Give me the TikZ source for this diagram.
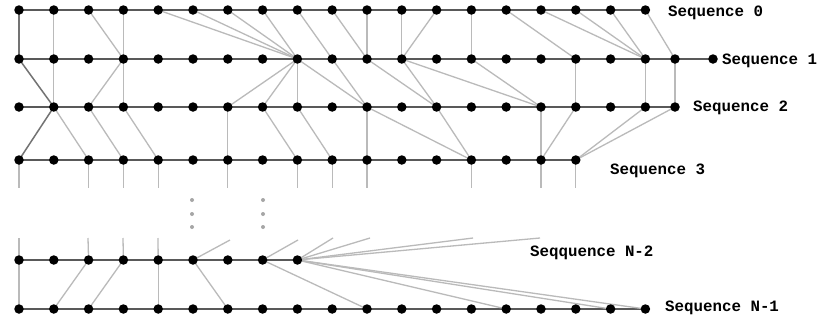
\documentclass[tikz,border=0pt]{standalone}
\usepackage{fontspec}
\setmonofont{Liberation Mono}
\usetikzlibrary{calc}
\pgfdeclarelayer{bg}
\pgfsetlayers{bg,main}
\begin{document}
\begin{tikzpicture}[x=1pt,y=-1pt,
  seqline/.style={draw=black!65, line width=2.2pt},
  link/.style={draw=black!27, line width=1.3pt},
  strong/.style={draw=black!55, line width=1.5pt},
  seqdot/.style={circle, fill=black, inner sep=0pt, minimum size=9.5pt},
  vdot/.style={circle, fill=black!35, inner sep=0pt, minimum size=4pt},
  seqlabel/.style={font=\ttfamily\bfseries\fontsize{15.8}{15.8}\selectfont, anchor=west, inner sep=0pt}]
\useasboundingbox (0,0) rectangle (820,327);

% ---- sequence nodes ----
\foreach \i in {0,...,18} \node[seqdot] (a\i) at ({19+34.8*\i},10) {};
\foreach \i in {0,...,18} \node[seqdot] (b\i) at ({19+34.8*\i},59) {};
\node[seqdot] (b19) at (675,59) {};
\node[seqdot] (b20) at (713,59) {};
\foreach \i in {0,...,18} \node[seqdot] (c\i) at ({19+34.8*\i},107) {};
\node[seqdot] (c19) at (675,107) {};
\foreach \i in {0,...,16} \node[seqdot] (d\i) at ({19+34.8*\i},160) {};
\foreach \i in {0,...,8} \node[seqdot] (m\i) at ({19+34.8*\i},260) {};
\foreach \i in {0,...,18} \node[seqdot] (n\i) at ({19+34.8*\i},309) {};

% ---- labels ----
\node[seqlabel] (l0) at (668,13) {Sequence 0};
\node[seqlabel] (l1) at (722,61) {Sequence 1};
\node[seqlabel] (l2) at (693,108) {Sequence 2};
\node[seqlabel] (l3) at (610,171) {Sequence 3};
\node[seqlabel] (l4) at (530,253) {Seqquence N-2};
\node[seqlabel] (l5) at (665,308) {Sequence N-1};

% ---- vertical ellipses ----
\foreach \y in {200,214,227} {
  \node[vdot] at (192,\y) {};
  \node[vdot] at (263,\y) {};
}

% ---- loose ends through the gap ----
\foreach \i in {0,2,3,4,6,8,9,10,13,15,16}
  \coordinate (e\i) at ($(d\i)+(0,28)$);
\coordinate (u0) at (19,238);
\coordinate (u2) at (88,238);
\coordinate (u3) at (123,238);
\coordinate (u4) at (158,238);
\coordinate (u5) at (230,240);
\coordinate (u7) at (298,240);
\coordinate (u8a) at (333,238);
\coordinate (u8b) at (370,238);
\coordinate (u8c) at (473,238);
\coordinate (u8d) at (540,238);

\begin{pgfonlayer}{bg}
  \fill[white] (0,0) rectangle (820,327);
  % sequence lines
  \draw[seqline] (a0.center) -- (a18.center);
  \draw[seqline] (b0.center) -- (b20.center);
  \draw[seqline] (c0.center) -- (c19.center);
  \draw[seqline] (d0.center) -- (d16.center);
  \draw[seqline] (m0.center) -- (m8.center);
  \draw[seqline] (n0.center) -- (n18.center);

  % Sequence 0 -> Sequence 1
  \draw[strong] (a0.center) -- (b0.center);
  \foreach \s/\t in {1/1,2/3,3/3,4/8,5/8,6/8,7/8,8/9,9/10,10/10,11/11,12/11,13/13,14/16,15/18,16/18,17/18,18/19}
    \draw[link] (a\s.center) -- (b\t.center);

  % Sequence 1 -> Sequence 2
  \draw[strong] (b0.center) -- (c1.center);
  \foreach \s/\t in {1/1,3/2,3/3,8/6,8/7,8/8,8/10,9/10,10/12,11/12,11/15,13/15,16/16,18/18,19/19}
    \draw[link] (b\s.center) -- (c\t.center);

  % Sequence 2 -> Sequence 3
  \draw[strong] (c1.center) -- (d0.center);
  \foreach \s/\t in {1/2,2/3,3/4,6/6,7/8,8/9,10/10,10/13,12/13,15/15,16/15,18/16,19/16}
    \draw[link] (c\s.center) -- (d\t.center);

  % ends leaving Sequence 3
  \foreach \i in {0,2,3,4,6,8,9,10,13,15,16}
    \draw[link] (d\i.center) -- (e\i);

  % ends arriving at Sequence N-2
  \foreach \s/\t in {0/u0,2/u2,3/u3,4/u4,5/u5,7/u7,8/u8a,8/u8b,8/u8c,8/u8d}
    \draw[link] (m\s.center) -- (\t);

  % Sequence N-2 -> Sequence N-1
  \foreach \s/\t in {0/0,2/1,3/2,4/4,5/6,7/10,8/14,8/17,8/18}
    \draw[link] (m\s.center) -- (n\t.center);
\end{pgfonlayer}
\end{tikzpicture}
\end{document}
